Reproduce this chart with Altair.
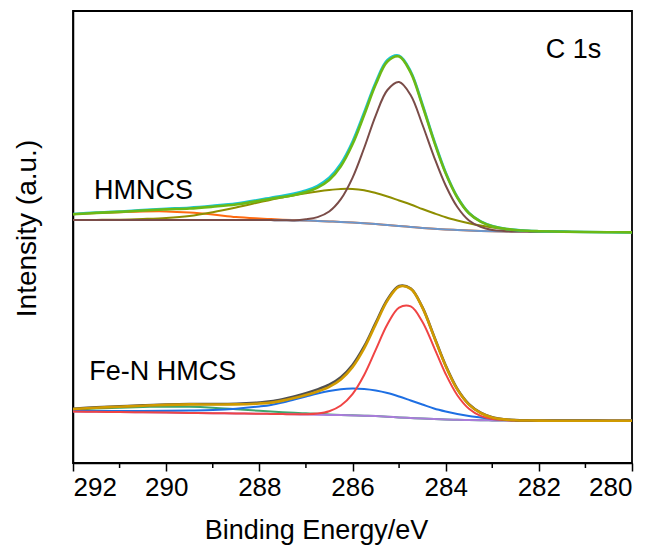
import altair as alt
import pandas as pd

# Binding energy grid (eV), shared by every curve
energy = [292, 291.5, 291, 290.5, 290, 289.5, 289, 288.5, 288,
          287.75, 287.5, 287.25, 287, 286.75, 286.5, 286.25, 286,
          285.75, 285.5, 285.25, 285, 284.75, 284.5, 284.25, 284,
          283.75, 283.5, 283.25, 283, 282.75, 282.5, 282.25, 282,
          281.5, 281, 280.5, 280]

# ---- HMNCS (upper, offset) ----
hmncs_raw = [249, 250.5, 251.5, 253, 254.2, 255.3, 257.2, 259.5, 263.2,
             265.3, 267.2, 269.5, 272.5, 277.2, 285.2, 299.3, 321.3,
             350.5, 380.8, 403, 407.3, 391.5, 358.8, 322.8, 290.5,
             266, 250, 241.6, 237, 234.5, 233.1, 232.3, 231.8,
             231.4, 231, 230.7, 230.5]
hmncs_fit = [248.7, 250.1, 251.1, 252.5, 253.6, 254.5, 256.3, 258.5, 262.2,
             264.3, 266, 268.1, 271, 275.4, 283, 296.8, 318.7,
             348, 378.7, 401.5, 406.5, 390.3, 357.5, 321.7, 289.7,
             265.5, 249.7, 241.4, 236.8, 234.4, 233, 232.2, 231.8,
             231.3, 231, 230.8, 230.6]
hmncs_cc = [243, 243, 243, 243, 243, 243, 243, 243, 243,
            242.9, 242.8, 242.6, 243.7, 245.9, 251.5, 263.8, 285.1,
            315, 347.7, 373, 381, 367.8, 338.5, 306.2, 277.5,
            256, 242.5, 236.1, 233.1, 232, 231.5, 231.4, 231.3,
            231.2, 231, 231, 231]
hmncs_cn = [243, 243.1, 243.3, 244, 245, 247, 250.8, 255.5, 260.7,
            263.3, 265.5, 267.8, 269.8, 271.6, 273.1, 274.1, 274.1,
            272.8, 270, 266.5, 262.5, 258.5, 254, 249.7, 245.7,
            242.5, 239.7, 237.4, 235.5, 234, 233, 232.2, 231.8,
            231.3, 231, 231, 231]
hmncs_oco = [248.7, 250, 250.8, 251.5, 251.6, 250.5, 248.5, 246, 244.5,
             243.9, 243.3, 242.9, 242.5, 242.1, 241.6, 241.1, 240.5,
             239.8, 239, 238, 237, 236, 235, 234.2, 233.5,
             233, 232.5, 232.1, 231.8, 231.6, 231.5, 231.4, 231.3,
             231.2, 231, 231, 231]
hmncs_bg = [243, 243, 243, 243, 243, 243, 243, 243, 243,
            242.9, 242.8, 242.6, 242.5, 242.1, 241.6, 241.1, 240.5,
            239.8, 239, 238, 237, 236, 235, 234.2, 233.5,
            233, 232.5, 232.1, 231.8, 231.6, 231.5, 231.4, 231.3,
            231.2, 231, 231, 231]

# ---- Fe-N HMCS (lower) ----
fen_raw = [54.3, 55.6, 56.6, 57.6, 58.5, 59, 59, 59.3, 60.5,
           61.6, 63.8, 66.6, 69.8, 73.6, 78.3, 85.8, 98,
           116.5, 140.3, 163.5, 177, 174.5, 155.8, 126.8, 97.5,
           74, 58.8, 50.3, 45.7, 43.7, 42.9, 42.6, 42.5,
           42.4, 42.4, 42.3, 42.3]
fen_fit = [54, 55.3, 56.3, 57.3, 58.1, 58.6, 58.5, 58.6, 59.5,
           60.4, 62.4, 65, 68, 71.6, 76.2, 83.6, 95.9,
           114.7, 138.9, 162.4, 176.3, 174.1, 155.4, 126.3, 97,
           73.6, 58.4, 50, 45.5, 43.6, 42.8, 42.5, 42.4,
           42.3, 42.3, 42.3, 42.3]
fen_cc = [51.5, 51.2, 51, 50.7, 50.4, 50.1, 49.8, 49.5, 49.2,
          49.1, 48.9, 48.7, 48.8, 49.5, 51.8, 57.5, 68.9,
          88, 113.3, 138.7, 155.4, 156.6, 141.3, 115.7, 89,
          67.8, 54.3, 47.2, 44.1, 42.9, 42.4, 42.3, 42.3,
          42.3, 42.3, 42.3, 42.3]
fen_cn = [52, 52, 52, 52, 52.2, 52.5, 53, 54.3, 56.5,
          58, 60.5, 63.5, 66.5, 69.5, 72, 73.8, 74.5,
          74, 72.5, 70, 66.5, 62.5, 58.5, 54.5, 51.5,
          49, 47, 45.5, 44, 43.2, 42.8, 42.5, 42.4,
          42.3, 42.3, 42.3, 42.3]
fen_oco = [53.5, 54.5, 55.3, 56, 56.3, 56.2, 55.3, 53.8, 52.2,
           51.5, 50.8, 50.2, 49.7, 49.2, 48.6, 48.1, 47.7,
           47.3, 46.9, 46.3, 45.6, 45, 44.4, 43.9, 43.5,
           43.2, 42.9, 42.7, 42.6, 42.5, 42.4, 42.3, 42.3,
           42.3, 42.3, 42.3, 42.3]
fen_bg = [51.5, 51.2, 51, 50.7, 50.4, 50.1, 49.8, 49.5, 49.2,
          49.1, 48.9, 48.7, 48.5, 48.3, 48.1, 47.9, 47.6,
          47.3, 46.9, 46.3, 45.6, 45, 44.4, 43.9, 43.5,
          43.2, 42.9, 42.7, 42.6, 42.5, 42.4, 42.3, 42.3,
          42.3, 42.3, 42.3, 42.3]

major_ticks = [280, 282, 284, 286, 288, 290, 292]
minor_ticks = [281, 283, 285, 287, 289, 291]

# (values, colour, stroke width) in drawing order, bottom first
curves = [
    (hmncs_oco, "#FF6A10", 2.0),
    (hmncs_bg, "#6B96CC", 2.0),
    (hmncs_cn, "#8E8E00", 2.0),
    (hmncs_cc, "#7A4C48", 2.0),
    (hmncs_raw, "#19C6D2", 2.6),
    (hmncs_fit, "#6CB915", 2.6),
    (fen_oco, "#3FA56C", 2.0),
    (fen_bg, "#A97CDA", 2.0),
    (fen_cn, "#1E6FE3", 2.0),
    (fen_cc, "#F04444", 2.0),
    (fen_raw, "#505050", 2.6),
    (fen_fit, "#D09A00", 2.6),
]

FONT = "Liberation Sans"
PLOT_W, PLOT_H = 559, 452

x_scale = alt.Scale(domain=[280, 292], reverse=True, nice=False, zero=False)
x_axis = alt.Axis(
    title="Binding Energy/eV",
    values=major_ticks,
    tickSize=8, tickColor="black", tickWidth=1.5,
    domainColor="black", domainWidth=1.5,
    labelFont=FONT, labelFontSize=26, labelColor="black", labelPadding=3,
    titleFont=FONT, titleFontSize=27, titleFontWeight="normal", titleColor="black",
    titleX=243, titleY=75, titleAlign="center", titleBaseline="alphabetic",
    grid=False,
)
x_enc = alt.X("energy:Q", scale=x_scale, axis=x_axis)
y_enc = alt.Y(
    "intensity:Q",
    scale=alt.Scale(domain=[0, 452], nice=False, zero=False),
    axis=alt.Axis(
        title="Intensity (a.u.)", labels=False, ticks=False, grid=False,
        domainColor="black", domainWidth=1.5,
        titleFont=FONT, titleFontSize=28, titleFontWeight="normal", titleColor="black",
        titleX=-38, titleY=217, titleAlign="center", titleBaseline="alphabetic",
        titleAngle=270,
    ),
)

layers = []
for vals, color, width in curves:
    df = pd.DataFrame({"energy": energy, "intensity": vals})
    layers.append(
        alt.Chart(df).mark_line(color=color, strokeWidth=width, interpolate="catmull-rom")
        .encode(x=x_enc, y=y_enc)
    )

# short minor ticks between the labelled ones, hanging below the x axis
minor = alt.Chart(pd.DataFrame({"energy": minor_ticks})).mark_rule(
    color="black", strokeWidth=1.5
).encode(
    x=x_enc,
    y=alt.value(PLOT_H), y2=alt.value(PLOT_H + 5),
)
layers.append(minor)


def label(text, e, inten):
    return alt.Chart(pd.DataFrame({"t": [text]})).mark_text(
        font=FONT, fontSize=27, color="black", align="left", baseline="alphabetic"
    ).encode(x=alt.datum(e), y=alt.datum(inten), text="t:N")


layers += [
    label("HMNCS", 291.55, 263.7),
    label("Fe-N HMCS", 291.65, 83),
    label("C 1s", 281.85, 405),
]

chart = alt.layer(*layers).properties(
    width=PLOT_W, height=PLOT_H,
    padding={"left": 73, "top": 11, "right": 30, "bottom": 86},
    autosize="none",
).configure_view(stroke="black", strokeWidth=1.8)

chart.save("out.html", embed_options={"renderer": "svg", "actions": False})
